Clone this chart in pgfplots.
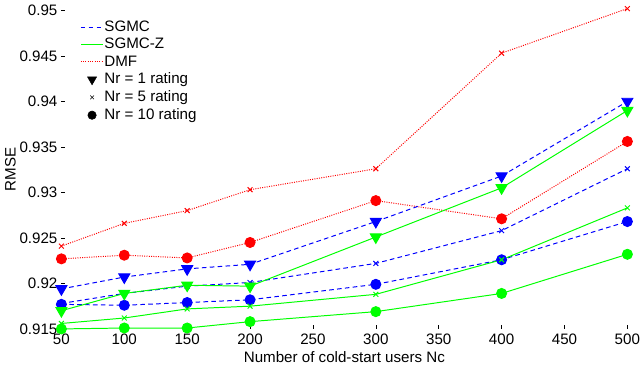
\documentclass[border=0pt]{standalone}
\usepackage{pgfplots}
\pgfplotsset{compat=1.18}
\usepackage{fontspec}
\setmainfont{Liberation Sans}
\definecolor{mblue}{RGB}{0,0,255}
\definecolor{mgreen}{RGB}{0,255,0}
\definecolor{mred}{RGB}{255,0,0}
\begin{document}
\fontsize{11.5}{13}\selectfont
\begin{tikzpicture}
\begin{axis}[
    scale only axis,
    width=430pt, height=242pt,
    xmin=50, xmax=500,
    ymin=0.915, ymax=0.95,
    xtick={50,100,...,500},
    ytick={0.915,0.92,0.925,0.93,0.935,0.94,0.945,0.95},
    scaled y ticks=false,
    yticklabel style={/pgf/number format/fixed, /pgf/number format/precision=3, xshift=1pt},
    xticklabel style={inner xsep=0pt},
    /pgf/number format/assume math mode=true,
    tick label style={font=\fontsize{11.5}{13}\selectfont},
    label style={font=\fontsize{11.5}{13}\selectfont},
    xtick pos=bottom, ytick pos=left,
    tick align=inside,
    major tick length=3pt,
    tick style={black, line width=0.5pt},
    axis line style={draw=none},
    xlabel={Number of cold-start users Nc},
    ylabel={RMSE},
    xlabel style={yshift=3pt},
    ylabel style={yshift=-5pt},
    clip=false,
    legend style={at={(0.026,0.985)}, anchor=north west, draw=none, fill=none,
        font=\fontsize{11.5}{13}\selectfont, row sep=-0.5pt,
        nodes={inner xsep=0.5pt},
        /tikz/every odd column/.append style={column sep=0pt},
        /tikz/every even column/.append style={column sep=0pt}},
    legend cell align=left,
]
% legend entries
\addlegendimage{mblue, line width=0.75pt, dash pattern=on 3.5pt off 2.5pt}
\addlegendentry{SGMC}
\addlegendimage{mgreen, solid, line width=0.75pt}
\addlegendentry{SGMC-Z}
\addlegendimage{mred, densely dotted, line width=0.75pt}
\addlegendentry{DMF}
\addlegendimage{only marks, mark=triangle*, mark options={rotate=180, scale=2.0}, black}
\addlegendentry{Nr = 1 rating}
\addlegendimage{only marks, mark=x, mark options={scale=1.0}, black}
\addlegendentry{Nr = 5 rating}
\addlegendimage{only marks, mark=*, mark options={scale=1.6}, black}
\addlegendentry{Nr = 10 rating}

% DMF
\addplot[forget plot, mred, densely dotted, line width=0.75pt, mark=x, mark options={solid, scale=1.3}] coordinates {
(50,0.9241) (100,0.9266) (150,0.9280) (200,0.9303) (300,0.9326) (400,0.9453) (500,0.9502)};
\addplot[forget plot, mred, densely dotted, line width=0.75pt, mark=*, mark options={solid, scale=1.9}] coordinates {
(50,0.9227) (100,0.9231) (150,0.9228) (200,0.9245) (300,0.9291) (400,0.9271) (500,0.9356)};

% SGMC
\addplot[forget plot, mblue, line width=0.75pt, dash pattern=on 3.5pt off 2.5pt, mark=x, mark options={solid, scale=1.3}] coordinates {
(50,0.9178) (100,0.9189) (150,0.9197) (200,0.9201) (300,0.9222) (400,0.9258) (500,0.9326)};
\addplot[forget plot, mblue, line width=0.75pt, dash pattern=on 3.5pt off 2.5pt, mark=*, mark options={solid, scale=1.9}] coordinates {
(50,0.9177) (100,0.9176) (150,0.9179) (200,0.9182) (300,0.9199) (400,0.9226) (500,0.9268)};
\addplot[forget plot, mblue, line width=0.75pt, dash pattern=on 3.5pt off 2.5pt, mark=triangle*, mark options={solid, rotate=180, scale=2.4}] coordinates {
(50,0.9194) (100,0.9207) (150,0.9216) (200,0.9221) (300,0.9268) (400,0.9318) (500,0.9400)};

% SGMC-Z
\addplot[forget plot, mgreen, line width=0.75pt, mark=x, mark options={solid, scale=1.3}] coordinates {
(50,0.9156) (100,0.9162) (150,0.9172) (200,0.9175) (300,0.9188) (400,0.9226) (500,0.9283)};
\addplot[forget plot, mgreen, line width=0.75pt, mark=*, mark options={solid, scale=1.9}] coordinates {
(50,0.9150) (100,0.9151) (150,0.9151) (200,0.9158) (300,0.9169) (400,0.9189) (500,0.9232)};
\addplot[forget plot, mgreen, line width=0.75pt, mark=triangle*, mark options={solid, rotate=180, scale=2.4}] coordinates {
(50,0.9170) (100,0.9189) (150,0.9198) (200,0.9197) (300,0.9251) (400,0.9305) (500,0.9390)};
\end{axis}
\end{tikzpicture}
\end{document}
